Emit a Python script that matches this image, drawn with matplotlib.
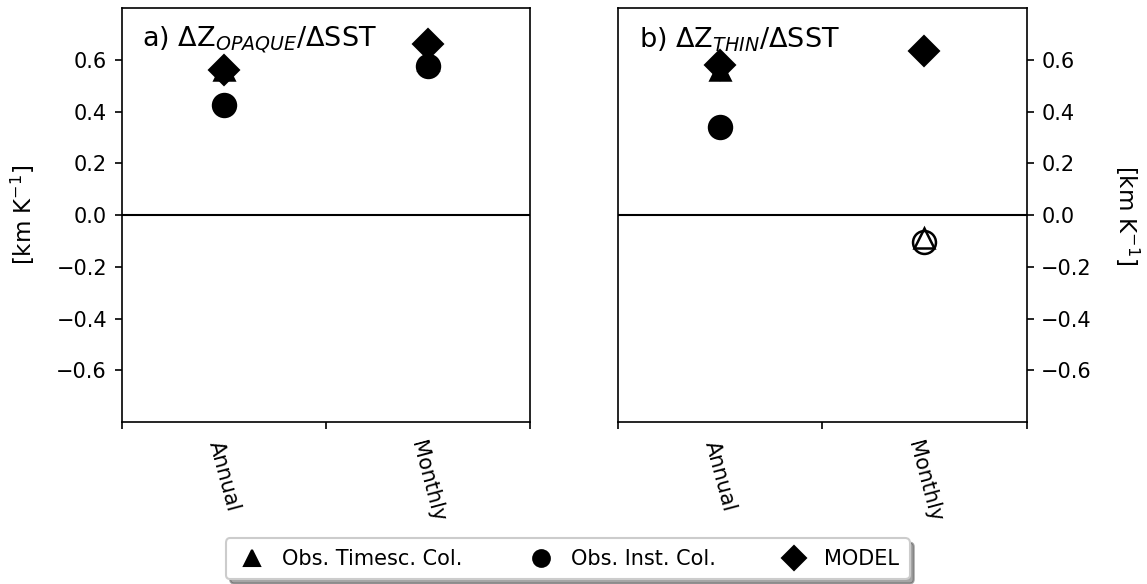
import matplotlib
matplotlib.use("Agg")
import matplotlib.pyplot as plt
from matplotlib.lines import Line2D

periods = ["Annual", "Monthly"]
xpos = [0.5, 1.5]

# panel a) opaque
opq_timesc = [0.56, 0.60]
opq_inst = [0.425, 0.575]
opq_model = [0.56, 0.66]

# panel b) thin
thin_timesc = [0.56, -0.09]
thin_inst = [0.34, -0.105]
thin_model = [0.58, 0.635]
thin_signif = [True, False]  # monthly obs drawn hollow

titles = [r"a) $\Delta$Z$_{OPAQUE}$/$\Delta$SST", r"b) $\Delta$Z$_{THIN}$/$\Delta$SST"]
ylab = r"[km K$^{-1}$]"

dpi = 150
fig, axes = plt.subplots(1, 2, figsize=(1147 / dpi, 584 / dpi), dpi=dpi)
fig.subplots_adjust(left=0.106, right=0.895, top=0.986, bottom=0.277, wspace=0.216)

panels = [(opq_timesc, opq_inst, opq_model, [True, True]),
          (thin_timesc, thin_inst, thin_model, thin_signif)]
for ax, (tsc, inst, mod, sig), title in zip(axes, panels, titles):
    for i, x in enumerate(xpos):
        fc = "k" if sig[i] else "none"
        ax.plot(x, inst[i], "o", ms=11, mfc=fc, mec="k", mew=1.2)
        ax.plot(x, tsc[i], "^", ms=10, mfc=fc, mec="k", mew=1.2)
        ax.plot(x, mod[i], "D", ms=10, mfc="k", mec="k")
    ax.axhline(0, color="k", lw=1.0)
    ax.set_xlim(0, 2)
    ax.set_ylim(-0.8, 0.8)
    ax.set_yticks([-0.6, -0.4, -0.2, 0.0, 0.2, 0.4, 0.6])
    ax.set_xticks([0, 1, 2])
    ax.set_xticklabels([])
    ax.set_xticks(xpos, minor=True)
    ax.set_xticklabels(periods, minor=True, rotation=-75, ha="center", va="top")
    ax.tick_params(axis="x", which="minor", length=0, pad=8)
    ax.text(0.05, 0.906, title, transform=ax.transAxes, fontsize=13, va="baseline")

axes[0].set_ylabel(ylab, fontsize=11, labelpad=9)
axes[1].yaxis.tick_right()
axes[1].yaxis.set_label_position("right")
axes[1].set_ylabel(ylab, fontsize=11, rotation=270, va="bottom", labelpad=10)

handles = [Line2D([], [], ls="none", marker="^", ms=8, color="k"),
           Line2D([], [], ls="none", marker="o", ms=8, color="k"),
           Line2D([], [], ls="none", marker="D", ms=8, color="k")]
labels = ["Obs. Timesc. Col.", "Obs. Inst. Col.", "MODEL"]
fig.legend(handles, labels, loc="center", bbox_to_anchor=(0.495, 0.043), ncol=3,
           shadow=True, fancybox=True, columnspacing=3.0, handlelength=1.5,
           handletextpad=0.7, borderpad=0.5, borderaxespad=0)

fig.savefig("out.png")
